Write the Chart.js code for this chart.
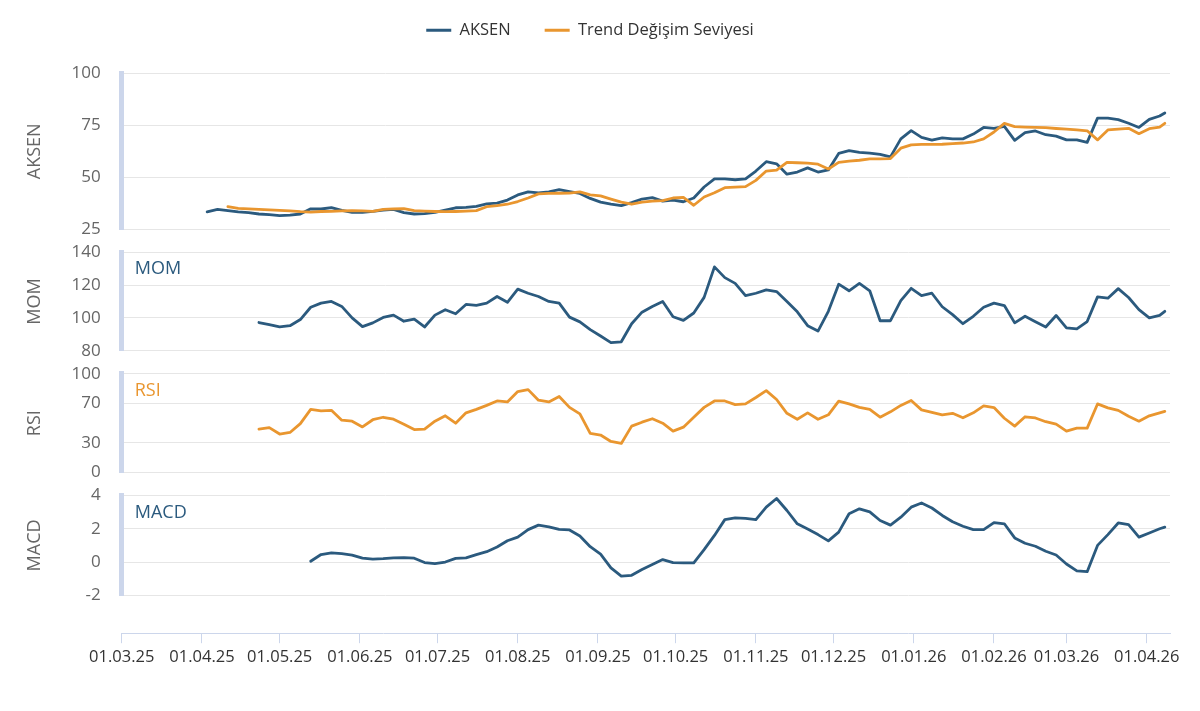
<!DOCTYPE html>
<html>
<head>
<meta charset="utf-8">
<title>AKSEN</title>
<script src="https://cdn.jsdelivr.net/npm/chart.js@4.4.1/dist/chart.umd.min.js"></script>
<style>
  html, body { margin: 0; padding: 0; background: #ffffff; }
  #wrap { width: 1200px; height: 711px; }
</style>
</head>
<body>
<div id="wrap"><canvas id="chart"></canvas></div>
<script>
// days counted from 01.03.2025
const days = [
  33, 37, 41, 45, 49, 53, 57, 61, 65, 69,
  73, 77, 81, 85, 89, 93, 97, 101, 105, 109,
  113, 117, 121, 125, 129, 133, 137, 141, 145, 149,
  153, 157, 161, 165, 169, 173, 177, 181, 185, 189,
  193, 197, 201, 205, 209, 213, 217, 221, 225, 229,
  233, 237, 241, 245, 249, 253, 257, 261, 265, 269,
  273, 277, 281, 285, 289, 293, 297, 301, 305, 309,
  313, 317, 321, 325, 329, 333, 337, 341, 345, 349,
  353, 357, 361, 365, 369, 373, 377, 381, 385, 389,
  393, 397, 401, 403
];

const aksen = [
  33.3, 34.5, 33.9, 33.3, 33.0, 32.3, 32.0, 31.5, 31.8, 32.3,
  34.8, 34.7, 35.4, 34.0, 33.1, 33.1, 33.6, 34.2, 34.5, 33.0,
  32.3, 32.5, 33.1, 34.2, 35.3, 35.5, 36.0, 37.2, 37.5, 39.0,
  41.5, 43.0, 42.5, 43.0, 44.0, 43.1, 42.2, 39.8, 38.0, 37.0,
  36.3, 37.8, 39.5, 40.2, 38.5, 39.0, 38.2, 40.0, 45.3, 49.2,
  49.2, 48.8, 49.2, 53.0, 57.5, 56.5, 51.5, 52.5, 54.5, 52.5,
  53.5, 61.5, 62.8, 62.0, 61.6, 61.0, 59.8, 68.5, 72.5, 69.2,
  67.9, 69.0, 68.5, 68.5, 70.8, 74.0, 73.6, 74.5, 67.8, 71.5,
  72.3, 70.5, 69.8, 68.0, 68.0, 66.8, 78.5, 78.5, 77.8, 76.0,
  74.0, 77.9, 79.5, 81.0
];

const trend = [
  null, null, 35.8, 35.0, 34.8, 34.5, 34.3, 34.0, 33.8, 33.4,
  33.2, 33.5, 33.6, 33.8, 33.9, 33.8, 33.6, 34.5, 34.8, 34.9,
  33.9, 33.7, 33.5, 33.4, 33.5, 33.7, 33.9, 35.8, 36.3, 37.0,
  38.3, 40.0, 42.0, 42.2, 42.3, 42.4, 43.0, 41.5, 41.0, 39.5,
  38.0, 37.0, 38.0, 38.5, 38.7, 40.0, 40.3, 36.5, 40.5, 42.5,
  45.0, 45.2, 45.5, 48.5, 53.0, 53.4, 57.2, 57.0, 56.8, 56.3,
  54.0, 57.2, 57.8, 58.2, 58.9, 58.9, 59.0, 64.0, 65.6, 65.8,
  65.8, 65.9, 66.2, 66.5, 67.0, 68.5, 71.8, 76.0, 74.4, 74.2,
  74.0, 73.9, 73.5, 73.2, 72.8, 72.4, 68.0, 72.8, 73.2, 73.6,
  71.0, 73.4, 74.2, 76.0
];

const mom = [
  null, null, null, null, null, 97.2, 96.0, 94.6, 95.3, 99.0,
  106.5, 109.0, 110.0, 107.0, 100.0, 94.7, 97.0, 100.3, 101.7, 98.0,
  99.3, 94.5, 101.7, 105.0, 102.5, 108.2, 107.6, 109.0, 113.0, 109.5,
  117.5, 115.0, 113.0, 110.0, 109.0, 100.5, 97.6, 92.9, 89.0, 85.0,
  85.5, 96.5, 103.5, 107.0, 110.0, 100.7, 98.5, 103.0, 112.5, 131.0,
  124.5, 121.0, 113.5, 115.0, 117.0, 116.0, 110.0, 103.7, 95.3, 92.0,
  104.0, 120.5, 116.5, 121.0, 116.5, 98.3, 98.3, 110.5, 118.0, 113.6,
  115.0, 106.8, 102.0, 96.5, 101.0, 106.5, 109.0, 107.5, 97.0, 101.0,
  97.7, 94.5, 101.5, 94.0, 93.3, 97.8, 112.8, 112.0, 117.8, 112.4,
  105.0, 100.0, 101.5, 104.0
];

const rsi = [
  null, null, null, null, null, 44.0, 45.5, 39.0, 40.6, 49.5,
  64.0, 62.5, 63.0, 53.0, 52.0, 46.2, 53.5, 56.0, 54.0, 49.0,
  43.5, 44.0, 52.0, 57.5, 50.0, 60.5, 64.0, 68.0, 72.5, 71.5,
  82.0, 84.0, 73.3, 71.5, 77.0, 66.0, 59.4, 39.6, 38.0, 31.5,
  29.5, 47.0, 51.0, 54.5, 50.0, 42.0, 46.0, 56.0, 66.0, 72.5,
  72.5, 68.8, 69.5, 76.0, 83.0, 74.0, 60.0, 54.0, 60.5, 54.0,
  58.5, 72.3, 69.5, 66.0, 64.0, 56.1, 61.5, 68.0, 73.0, 63.5,
  61.0, 58.5, 60.0, 55.5, 60.5, 67.5, 65.8, 55.0, 47.0, 56.5,
  55.3, 51.5, 49.0, 42.0, 45.0, 45.0, 69.5, 65.5, 63.0, 57.0,
  52.0, 57.5, 60.5, 62.0
];

const macd = [
  null, null, null, null, null, null, null, null, null, null,
  0.05, 0.45, 0.55, 0.5, 0.42, 0.24, 0.17, 0.2, 0.25, 0.27,
  0.23, -0.03, -0.1, 0.0, 0.22, 0.25, 0.45, 0.62, 0.9, 1.28,
  1.5, 1.95, 2.22, 2.12, 1.96, 1.93, 1.57, 0.92, 0.47, -0.35,
  -0.85, -0.8, -0.45, -0.15, 0.15, -0.03, -0.05, -0.05, 0.75, 1.6,
  2.55, 2.65, 2.62, 2.55, 3.3, 3.82, 3.1, 2.3, 1.98, 1.65,
  1.27, 1.8, 2.9, 3.2, 3.02, 2.5, 2.22, 2.7, 3.3, 3.55,
  3.25, 2.8, 2.42, 2.15, 1.95, 1.95, 2.37, 2.3, 1.45, 1.13,
  0.95, 0.65, 0.42, -0.12, -0.53, -0.58, 1.0, 1.65, 2.35, 2.25,
  1.5, 1.75, 2.0, 2.1
];

// x axis ticks: first day of each month
const monthDays = [0, 31, 61, 92, 122, 153, 184, 214, 245, 275, 306, 337, 365, 396];
const monthLabels = ['01.03.25', '01.04.25', '01.05.25', '01.06.25', '01.07.25', '01.08.25', '01.09.25',
  '01.10.25', '01.11.25', '01.12.25', '01.01.26', '01.02.26', '01.03.26', '01.04.26'];
const rsiTicks = [0, 30, 70, 100];

const BLUE = '#2b5a7e';
const ORANGE = '#e9962f';

const paneTitles = [
  { axis: 'yM', text: 'MOM', color: BLUE },
  { axis: 'yR', text: 'RSI', color: ORANGE },
  { axis: 'yD', text: 'MACD', color: BLUE }
];

function pts(values) {
  return days.map((d, i) => ({ x: d, y: values[i] }));
}

function lineSet(label, values, color, axis, order) {
  return {
    label: label,
    data: pts(values),
    yAxisID: axis,
    borderColor: color,
    backgroundColor: color,
    borderWidth: 2.8,
    borderJoinStyle: 'round',
    borderCapStyle: 'round',
    pointRadius: 0,
    tension: 0,
    fill: false,
    order: order
  };
}

function paneAxis(title, weight, stackWeight, min, max, step) {
  return {
    type: 'linear',
    position: 'left',
    stack: 'panes',
    stackWeight: stackWeight,
    weight: weight,
    min: min,
    max: max,
    offset: false,
    border: { color: '#ccd6eb', width: 5 },
    grid: { color: '#e6e6e6', lineWidth: 1, drawTicks: false },
    ticks: { stepSize: step, autoSkip: false, color: '#666666', font: { size: 17 }, padding: 21 },
    title: {
      display: true,
      text: title,
      color: '#666666',
      font: { size: 18 },
      padding: { top: 14, bottom: 5 }
    }
  };
}

function spacer(weight, stackWeight) {
  return { type: 'linear', position: 'left', stack: 'panes', stackWeight: stackWeight, weight: weight, display: false };
}

// extra room under the legend
const legendGap = {
  id: 'legendGap',
  beforeInit(chart) {
    const fit = chart.legend.fit;
    chart.legend.fit = function () {
      fit.call(this);
      this.height += 25;
    };
  }
};

// MOM / RSI / MACD captions inside the panes
const paneLabels = {
  id: 'paneLabels',
  afterDatasetsDraw(chart) {
    const { ctx, chartArea } = chart;
    ctx.save();
    ctx.font = "18px 'Open Sans'";
    ctx.textBaseline = 'middle';
    ctx.textAlign = 'left';
    paneTitles.forEach(t => {
      const s = chart.scales[t.axis];
      ctx.fillStyle = t.color;
      ctx.fillText(t.text, chartArea.left + 13, s.top + 17);
    });
    ctx.restore();
  }
};

Chart.defaults.font.family = "'Open Sans', sans-serif";

const rsiAxis = paneAxis('RSI', 4, 99, 0, 100, 10);
rsiAxis.afterBuildTicks = axis => { axis.ticks = rsiTicks.map(v => ({ value: v })); };

new Chart(document.getElementById('chart'), {
  type: 'line',
  data: {
    datasets: [
      lineSet('AKSEN', aksen, BLUE, 'yA', 2),
      lineSet('Trend Değişim Seviyesi', trend, ORANGE, 'yA', 1),
      lineSet('MOM', mom, BLUE, 'yM', 0),
      lineSet('RSI', rsi, ORANGE, 'yR', 0),
      lineSet('MACD', macd, BLUE, 'yD', 0)
    ]
  },
  options: {
    responsive: true,
    maintainAspectRatio: false,
    animation: false,
    layout: { padding: { top: -12, left: 10, right: 30, bottom: 40 } },
    plugins: {
      tooltip: { enabled: false },
      legend: {
        position: 'top',
        labels: {
          usePointStyle: true,
          pointStyle: 'line',
          pointStyleWidth: 25,
          padding: 34,
          color: '#333333',
          font: { size: 16.5 },
          filter: item => item.datasetIndex < 2,
          sort: (a, b) => a.datasetIndex - b.datasetIndex
        }
      }
    },
    scales: {
      x: {
        type: 'linear',
        min: 0,
        max: 405,
        afterBuildTicks: axis => { axis.ticks = monthDays.map(v => ({ value: v })); },
        ticks: {
          callback: (v, i) => monthLabels[i],
          autoSkip: false,
          maxRotation: 0,
          color: '#333333',
          font: { size: 16.5 },
          padding: 4
        },
        grid: { drawOnChartArea: false, color: '#ccd6eb', tickLength: 10 },
        border: { color: '#ccd6eb', width: 1 }
      },
      yA: paneAxis('AKSEN', 8, 156, 25, 100, 25),
      g1: spacer(7, 23),
      yM: paneAxis('MOM', 6, 99, 80, 140, 20),
      g2: spacer(5, 23),
      yR: rsiAxis,
      g3: spacer(3, 23),
      yD: paneAxis('MACD', 2, 100, -2, 4, 2),
      g4: spacer(1, 38)
    }
  },
  plugins: [legendGap, paneLabels]
});
</script>
</body>
</html>
